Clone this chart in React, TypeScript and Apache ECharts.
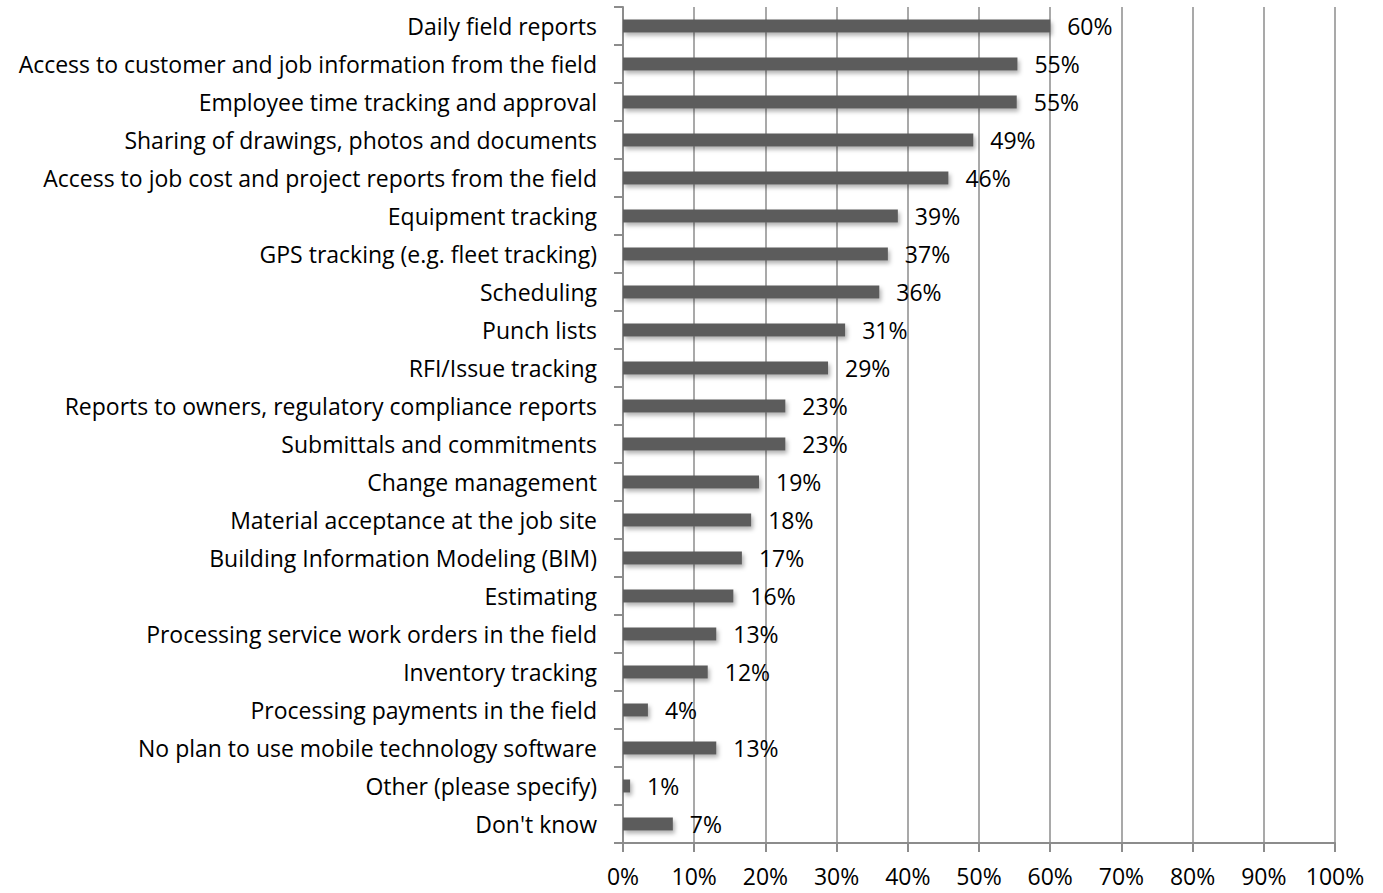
import React, { useEffect, useRef } from "react";
import * as echarts from "echarts";

const categories = [
  "Daily field reports",
  "Access to customer and job information from the field",
  "Employee time tracking and approval",
  "Sharing of drawings, photos and documents",
  "Access to job cost and project reports from the field",
  "Equipment tracking",
  "GPS tracking (e.g. fleet tracking)",
  "Scheduling",
  "Punch lists",
  "RFI/Issue tracking",
  "Reports to owners, regulatory compliance reports",
  "Submittals and commitments",
  "Change management",
  "Material acceptance at the job site",
  "Building Information Modeling (BIM)",
  "Estimating",
  "Processing service work orders in the field",
  "Inventory tracking",
  "Processing payments in the field",
  "No plan to use mobile technology software",
  "Other (please specify)",
  "Don't know",
];

const values = [
  60, 55.4, 55.3, 49.2, 45.7, 38.6, 37.2, 36, 31.2, 28.8, 22.8, 22.8, 19.1, 18,
  16.7, 15.5, 13.1, 11.9, 3.5, 13.1, 1, 7,
];

const xTicks = [0, 10, 20, 30, 40, 50, 60, 70, 80, 90, 100];

const FONT = "Open Sans";
const FS = 23;

export default function App() {
  const ref = useRef<HTMLDivElement>(null);
  useEffect(() => {
    if (!ref.current) return;
    const chart = echarts.init(ref.current, undefined, { renderer: "svg" });
    chart.setOption({
      animation: false,
      grid: { left: 623, right: 48, top: 7, bottom: 50, containLabel: false },
      xAxis: {
        type: "value",
        min: xTicks[0],
        max: xTicks[xTicks.length - 1],
        interval: 10,
        axisLine: { show: true, lineStyle: { color: "#8c8c8c", width: 2 } },
        axisTick: { show: true, length: 9, lineStyle: { color: "#8c8c8c", width: 2 } },
        splitLine: { show: true, lineStyle: { color: "#8c8c8c", width: 1.5 } },
        axisLabel: {
          formatter: (v: number) => v + "%",
          color: "#000",
          fontFamily: FONT,
          fontSize: FS,
          margin: 21,
        },
      },
      yAxis: {
        type: "category",
        data: categories,
        inverse: true,
        axisLine: { show: true, lineStyle: { color: "#8c8c8c", width: 2 } },
        axisTick: { show: true, length: 9, lineStyle: { color: "#8c8c8c", width: 2 } },
        axisLabel: {
          color: "#000",
          fontFamily: FONT,
          fontSize: FS,
          margin: 26,
        },
      },
      series: [
        {
          type: "bar",
          data: values,
          barWidth: 13,
          itemStyle: {
            color: "#5c5c5c",
            shadowColor: "rgba(0,0,0,0.3)",
            shadowBlur: 4,
            shadowOffsetX: 2,
            shadowOffsetY: 3,
          },
          label: {
            show: true,
            position: "right",
            distance: 17,
            formatter: (p: any) => Math.round(p.value) + "%",
            color: "#000",
            fontFamily: FONT,
            fontSize: FS,
          },
        },
      ],
    });
    return () => chart.dispose();
  }, []);
  return (
    <div
      ref={ref}
      style={{ position: "absolute", left: 0, top: 0, width: 1383, height: 893 }}
    />
  );
}
